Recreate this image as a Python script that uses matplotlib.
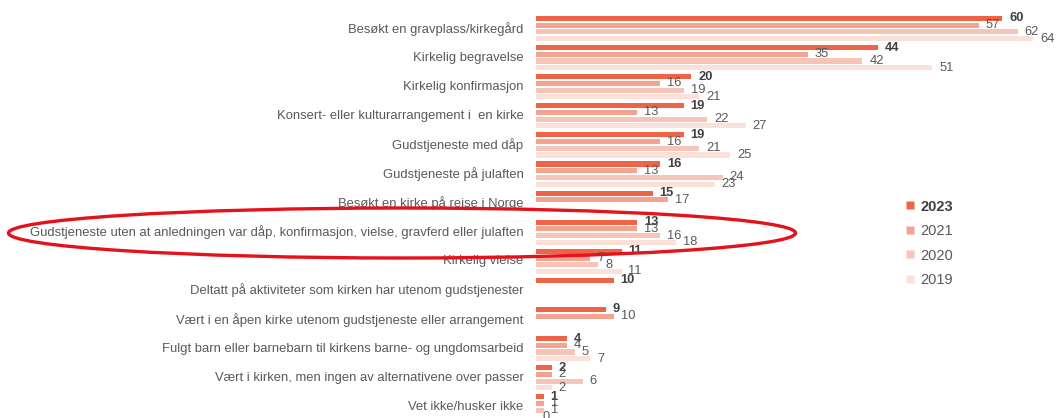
import numpy as np
import matplotlib
matplotlib.use("Agg")
import matplotlib.pyplot as plt
from matplotlib.patches import Ellipse
from matplotlib.lines import Line2D

plt.rcParams['font.family'] = ['Liberation Sans', 'DejaVu Sans']

categories = [
    "Besøkt en gravplass/kirkegård",
    "Kirkelig begravelse",
    "Kirkelig konfirmasjon",
    "Konsert- eller kulturarrangement i  en kirke",
    "Gudstjeneste med dåp",
    "Gudstjeneste på julaften",
    "Besøkt en kirke på reise i Norge",
    "Gudstjeneste uten at anledningen var dåp, konfirmasjon, vielse, gravferd eller julaften",
    "Kirkelig vielse",
    "Deltatt på aktiviteter som kirken har utenom gudstjenester",
    "Vært i en åpen kirke utenom gudstjeneste eller arrangement",
    "Fulgt barn eller barnebarn til kirkens barne- og ungdomsarbeid",
    "Vært i kirken, men ingen av alternativene over passer",
    "Vet ikke/husker ikke",
]
years = ["2023", "2021", "2020", "2019"]
nan = np.nan
v2023 = [60, 44, 20, 19, 19, 16, 15, 13, 11, 10, 9, 4, 2, 1]
v2021 = [57, 35, 16, 13, 16, 13, 17, 13, 7, nan, 10, 4, 2, 1]
v2020 = [62, 42, 19, 22, 21, 24, nan, 16, 8, nan, nan, 5, 6, 1]
v2019 = [64, 51, 21, 27, 25, 23, nan, 18, 11, nan, nan, 7, 2, 0]
series = [v2023, v2021, v2020, v2019]
colors = ["#EF6347", "#F5A391", "#F8C4B7", "#FCE0DA"]

fig = plt.figure(figsize=(10.58, 4.18), dpi=100)
ax = fig.add_axes([536 / 1058, 0, 513 / 1058, 1])

slot = 0.23
height = 0.175
base = np.arange(len(categories))

for j, (vals, col) in enumerate(zip(series, colors)):
    vals = np.array(vals, dtype=float)
    ok = ~np.isnan(vals)
    y = base[ok] + j * slot
    ax.barh(y, vals[ok], height=height, color=col, edgecolor='none')
    for yy, v in zip(y, vals[ok]):
        ax.annotate(f"{int(v)}", (v, yy), xytext=(5, 0), textcoords='offset points',
                    va='center', ha='left', fontsize=9.3,
                    color='#404040' if j == 0 else '#595959',
                    fontweight='bold' if j == 0 else 'normal')

# category labels
for i, c in enumerate(categories):
    ax.annotate(c, (0, i + 1.5 * slot), xytext=(-9, 0), textcoords='offset points',
                ha='right', va='center', fontsize=9.4, color='#595959',
                annotation_clip=False)

ax.set_xlim(0, 66)
ax.set_ylim((418 - 18.5) / 29.1, -18.5 / 29.1)
ax.axis('off')

# legend
handles = [Line2D([], [], marker='s', linestyle='none', markersize=6,
                  markerfacecolor=c, markeredgecolor='none') for c in colors]
leg = fig.legend(handles, years, loc='center left', bbox_to_anchor=(0.855, 0.418),
                 frameon=False, fontsize=10.5, handlelength=0.8, handletextpad=0.3,
                 labelspacing=0.72, borderpad=0, borderaxespad=0)
for k, t in enumerate(leg.get_texts()):
    t.set_color('#404040' if k == 0 else '#595959')
    if k == 0:
        t.set_fontweight('bold')

# red highlight ellipse
fig.add_artist(Ellipse((402 / 1058, 1 - 233 / 418), 787 / 1058, 50 / 418,
                       transform=fig.transFigure, fill=False,
                       edgecolor='#E3121B', linewidth=2.4, zorder=10))

fig.savefig("out.png", dpi=100)
